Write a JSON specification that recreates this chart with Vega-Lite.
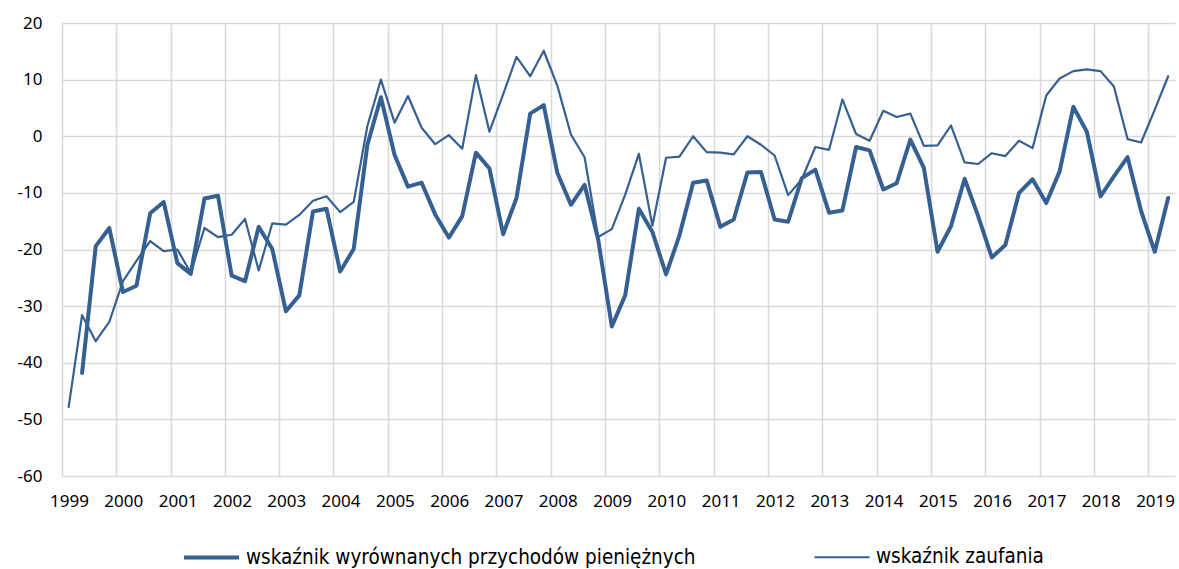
{
  "$schema": "https://vega.github.io/schema/vega-lite/v6.json",
  "width": 1113,
  "height": 453,
  "autosize": {"type": "none"},
  "padding": {"left": 62, "top": 23, "right": 4, "bottom": 93},
  "background": "white",
  "config": {
    "view": {"stroke": null},
    "axis": {"labelFont": "Noto Sans", "labelFontSize": 17, "labelColor": "#000000", "gridColor": "#d9d9d9", "gridWidth": 1.5, "domain": false, "ticks": false, "title": null}
  },
  "data": {
    "values": [
      {"date": "1999-02-15", "wskaźnik zaufania": -47.8},
      {"date": "1999-05-16", "wskaźnik wyrównanych przychodów pieniężnych": -41.8, "wskaźnik zaufania": -31.6},
      {"date": "1999-08-16", "wskaźnik wyrównanych przychodów pieniężnych": -19.4, "wskaźnik zaufania": -36.2},
      {"date": "1999-11-15", "wskaźnik wyrównanych przychodów pieniężnych": -16.2, "wskaźnik zaufania": -32.8},
      {"date": "2000-02-15", "wskaźnik wyrównanych przychodów pieniężnych": -27.5, "wskaźnik zaufania": -25.6},
      {"date": "2000-05-16", "wskaźnik wyrównanych przychodów pieniężnych": -26.4, "wskaźnik zaufania": -22.0},
      {"date": "2000-08-16", "wskaźnik wyrównanych przychodów pieniężnych": -13.6, "wskaźnik zaufania": -18.5},
      {"date": "2000-11-15", "wskaźnik wyrównanych przychodów pieniężnych": -11.6, "wskaźnik zaufania": -20.3},
      {"date": "2001-02-15", "wskaźnik wyrównanych przychodów pieniężnych": -22.4, "wskaźnik zaufania": -20.0},
      {"date": "2001-05-16", "wskaźnik wyrównanych przychodów pieniężnych": -24.3, "wskaźnik zaufania": -24.1},
      {"date": "2001-08-16", "wskaźnik wyrównanych przychodów pieniężnych": -11.0, "wskaźnik zaufania": -16.2},
      {"date": "2001-11-15", "wskaźnik wyrównanych przychodów pieniężnych": -10.5, "wskaźnik zaufania": -17.8},
      {"date": "2002-02-15", "wskaźnik wyrównanych przychodów pieniężnych": -24.6, "wskaźnik zaufania": -17.4},
      {"date": "2002-05-16", "wskaźnik wyrównanych przychodów pieniężnych": -25.6, "wskaźnik zaufania": -14.6},
      {"date": "2002-08-16", "wskaźnik wyrównanych przychodów pieniężnych": -16.0, "wskaźnik zaufania": -23.7},
      {"date": "2002-11-15", "wskaźnik wyrównanych przychodów pieniężnych": -19.9, "wskaźnik zaufania": -15.4},
      {"date": "2003-02-15", "wskaźnik wyrównanych przychodów pieniężnych": -30.9, "wskaźnik zaufania": -15.6},
      {"date": "2003-05-16", "wskaźnik wyrównanych przychodów pieniężnych": -28.1, "wskaźnik zaufania": -13.9},
      {"date": "2003-08-16", "wskaźnik wyrównanych przychodów pieniężnych": -13.3, "wskaźnik zaufania": -11.4},
      {"date": "2003-11-15", "wskaźnik wyrównanych przychodów pieniężnych": -12.8, "wskaźnik zaufania": -10.6},
      {"date": "2004-02-15", "wskaźnik wyrównanych przychodów pieniężnych": -23.9, "wskaźnik zaufania": -13.4},
      {"date": "2004-05-16", "wskaźnik wyrównanych przychodów pieniężnych": -19.9, "wskaźnik zaufania": -11.6},
      {"date": "2004-08-16", "wskaźnik wyrównanych przychodów pieniężnych": -1.5, "wskaźnik zaufania": 1.8},
      {"date": "2004-11-15", "wskaźnik wyrównanych przychodów pieniężnych": 6.9, "wskaźnik zaufania": 10.0},
      {"date": "2005-02-15", "wskaźnik wyrównanych przychodów pieniężnych": -3.3, "wskaźnik zaufania": 2.4},
      {"date": "2005-05-16", "wskaźnik wyrównanych przychodów pieniężnych": -8.9, "wskaźnik zaufania": 7.1},
      {"date": "2005-08-16", "wskaźnik wyrównanych przychodów pieniężnych": -8.2, "wskaźnik zaufania": 1.5},
      {"date": "2005-11-15", "wskaźnik wyrównanych przychodów pieniężnych": -13.8, "wskaźnik zaufania": -1.4},
      {"date": "2006-02-15", "wskaźnik wyrównanych przychodów pieniężnych": -17.9, "wskaźnik zaufania": 0.2},
      {"date": "2006-05-16", "wskaźnik wyrównanych przychodów pieniężnych": -14.1, "wskaźnik zaufania": -2.2},
      {"date": "2006-08-16", "wskaźnik wyrównanych przychodów pieniężnych": -2.9, "wskaźnik zaufania": 10.8},
      {"date": "2006-11-15", "wskaźnik wyrównanych przychodów pieniężnych": -5.7, "wskaźnik zaufania": 0.8},
      {"date": "2007-02-15", "wskaźnik wyrównanych przychodów pieniężnych": -17.3, "wskaźnik zaufania": 7.4},
      {"date": "2007-05-16", "wskaźnik wyrównanych przychodów pieniężnych": -10.9, "wskaźnik zaufania": 14.0},
      {"date": "2007-08-16", "wskaźnik wyrównanych przychodów pieniężnych": 4.0, "wskaźnik zaufania": 10.6},
      {"date": "2007-11-15", "wskaźnik wyrównanych przychodów pieniężnych": 5.5, "wskaźnik zaufania": 15.1},
      {"date": "2008-02-15", "wskaźnik wyrównanych przychodów pieniężnych": -6.5, "wskaźnik zaufania": 8.9},
      {"date": "2008-05-16", "wskaźnik wyrównanych przychodów pieniężnych": -12.1, "wskaźnik zaufania": 0.3},
      {"date": "2008-08-16", "wskaźnik wyrównanych przychodów pieniężnych": -8.6, "wskaźnik zaufania": -3.7},
      {"date": "2008-11-15", "wskaźnik wyrównanych przychodów pieniężnych": -18.2, "wskaźnik zaufania": -17.8},
      {"date": "2009-02-15", "wskaźnik wyrównanych przychodów pieniężnych": -33.6, "wskaźnik zaufania": -16.4},
      {"date": "2009-05-16", "wskaźnik wyrównanych przychodów pieniężnych": -28.1, "wskaźnik zaufania": -10.3},
      {"date": "2009-08-16", "wskaźnik wyrównanych przychodów pieniężnych": -12.8, "wskaźnik zaufania": -3.1},
      {"date": "2009-11-15", "wskaźnik wyrównanych przychodów pieniężnych": -16.9, "wskaźnik zaufania": -15.8},
      {"date": "2010-02-15", "wskaźnik wyrównanych przychodów pieniężnych": -24.4, "wskaźnik zaufania": -3.8},
      {"date": "2010-05-16", "wskaźnik wyrównanych przychodów pieniężnych": -17.5, "wskaźnik zaufania": -3.6},
      {"date": "2010-08-16", "wskaźnik wyrównanych przychodów pieniężnych": -8.2, "wskaźnik zaufania": 0.0},
      {"date": "2010-11-15", "wskaźnik wyrównanych przychodów pieniężnych": -7.8, "wskaźnik zaufania": -2.8},
      {"date": "2011-02-15", "wskaźnik wyrównanych przychodów pieniężnych": -16.0, "wskaźnik zaufania": -2.9},
      {"date": "2011-05-16", "wskaźnik wyrównanych przychodów pieniężnych": -14.7, "wskaźnik zaufania": -3.2},
      {"date": "2011-08-16", "wskaźnik wyrównanych przychodów pieniężnych": -6.4, "wskaźnik zaufania": 0.0},
      {"date": "2011-11-15", "wskaźnik wyrównanych przychodów pieniężnych": -6.3, "wskaźnik zaufania": -1.5},
      {"date": "2012-02-15", "wskaźnik wyrównanych przychodów pieniężnych": -14.7, "wskaźnik zaufania": -3.4},
      {"date": "2012-05-16", "wskaźnik wyrównanych przychodów pieniężnych": -15.1, "wskaźnik zaufania": -10.4},
      {"date": "2012-08-16", "wskaźnik wyrównanych przychodów pieniężnych": -7.4, "wskaźnik zaufania": -7.6},
      {"date": "2012-11-15", "wskaźnik wyrównanych przychodów pieniężnych": -5.9, "wskaźnik zaufania": -1.9},
      {"date": "2013-02-15", "wskaźnik wyrównanych przychodów pieniężnych": -13.5, "wskaźnik zaufania": -2.4},
      {"date": "2013-05-16", "wskaźnik wyrównanych przychodów pieniężnych": -13.1, "wskaźnik zaufania": 6.5},
      {"date": "2013-08-16", "wskaźnik wyrównanych przychodów pieniężnych": -1.9, "wskaźnik zaufania": 0.4},
      {"date": "2013-11-15", "wskaźnik wyrównanych przychodów pieniężnych": -2.5, "wskaźnik zaufania": -0.8},
      {"date": "2014-02-15", "wskaźnik wyrównanych przychodów pieniężnych": -9.4, "wskaźnik zaufania": 4.5},
      {"date": "2014-05-16", "wskaźnik wyrównanych przychodów pieniężnych": -8.3, "wskaźnik zaufania": 3.4},
      {"date": "2014-08-16", "wskaźnik wyrównanych przychodów pieniężnych": -0.6, "wskaźnik zaufania": 4.0},
      {"date": "2014-11-15", "wskaźnik wyrównanych przychodów pieniężnych": -5.6, "wskaźnik zaufania": -1.7},
      {"date": "2015-02-15", "wskaźnik wyrównanych przychodów pieniężnych": -20.4, "wskaźnik zaufania": -1.6},
      {"date": "2015-05-16", "wskaźnik wyrównanych przychodów pieniężnych": -15.9, "wskaźnik zaufania": 1.9},
      {"date": "2015-08-16", "wskaźnik wyrównanych przychodów pieniężnych": -7.5, "wskaźnik zaufania": -4.6},
      {"date": "2015-11-15", "wskaźnik wyrównanych przychodów pieniężnych": -14.1, "wskaźnik zaufania": -4.9},
      {"date": "2016-02-15", "wskaźnik wyrównanych przychodów pieniężnych": -21.4, "wskaźnik zaufania": -3.0},
      {"date": "2016-05-16", "wskaźnik wyrównanych przychodów pieniężnych": -19.2, "wskaźnik zaufania": -3.5},
      {"date": "2016-08-16", "wskaźnik wyrównanych przychodów pieniężnych": -10.0, "wskaźnik zaufania": -0.8},
      {"date": "2016-11-15", "wskaźnik wyrównanych przychodów pieniężnych": -7.6, "wskaźnik zaufania": -2.1},
      {"date": "2017-02-15", "wskaźnik wyrównanych przychodów pieniężnych": -11.8, "wskaźnik zaufania": 7.2},
      {"date": "2017-05-16", "wskaźnik wyrównanych przychodów pieniężnych": -6.2, "wskaźnik zaufania": 10.2},
      {"date": "2017-08-16", "wskaźnik wyrównanych przychodów pieniężnych": 5.2, "wskaźnik zaufania": 11.5},
      {"date": "2017-11-15", "wskaźnik wyrównanych przychodów pieniężnych": 0.8, "wskaźnik zaufania": 11.8},
      {"date": "2018-02-15", "wskaźnik wyrównanych przychodów pieniężnych": -10.6, "wskaźnik zaufania": 11.5},
      {"date": "2018-05-16", "wskaźnik wyrównanych przychodów pieniężnych": -7.1, "wskaźnik zaufania": 8.8},
      {"date": "2018-08-16", "wskaźnik wyrównanych przychodów pieniężnych": -3.7, "wskaźnik zaufania": -0.5},
      {"date": "2018-11-15", "wskaźnik wyrównanych przychodów pieniężnych": -13.2, "wskaźnik zaufania": -1.1},
      {"date": "2019-02-15", "wskaźnik wyrównanych przychodów pieniężnych": -20.4, "wskaźnik zaufania": 4.7},
      {"date": "2019-05-16", "wskaźnik wyrównanych przychodów pieniężnych": -10.9, "wskaźnik zaufania": 10.6}
    ]
  },
  "transform": [
    {"fold": ["wskaźnik wyrównanych przychodów pieniężnych", "wskaźnik zaufania"], "as": ["series", "value"]}
  ],
  "mark": {"type": "line", "strokeJoin": "round", "strokeCap": "round"},
  "encoding": {
    "x": {
      "field": "date",
      "type": "temporal",
      "scale": {"type": "utc", "domain": [{"year": 1999, "month": 1, "date": 1, "utc": true}, {"year": 2019, "month": 7, "date": 1, "utc": true}]},
      "axis": {"format": "%Y", "tickCount": {"interval": "year", "step": 1}, "labelOffset": 7, "labelPadding": 17, "labelAlign": "center", "labelFlush": false, "labelOverlap": false, "grid": true}
    },
    "y": {
      "field": "value",
      "type": "quantitative",
      "scale": {"domain": [-60, 20], "nice": false, "zero": false},
      "axis": {"values": [-60, -50, -40, -30, -20, -10, 0, 10, 20], "labelExpr": "'' + datum.value", "labelPadding": 20, "grid": true}
    },
    "color": {
      "field": "series",
      "type": "nominal",
      "scale": {"domain": ["wskaźnik wyrównanych przychodów pieniężnych", "wskaźnik zaufania"], "range": ["#376092", "#376092"]},
      "legend": {
        "orient": "none",
        "legendX": 120,
        "legendY": 505,
        "direction": "horizontal",
        "title": null,
        "padding": 0,
        "symbolType": "stroke",
        "symbolSize": 3025,
        "symbolStrokeColor": "#376092",
        "labelFont": "DejaVu Sans Condensed, DejaVu Sans",
        "labelFontSize": 20.5,
        "labelColor": "#000000",
        "labelOffset": 5,
        "labelLimit": 700,
        "columnPadding": 114
      }
    },
    "strokeWidth": {
      "field": "series",
      "type": "ordinal",
      "scale": {"domain": ["wskaźnik wyrównanych przychodów pieniężnych", "wskaźnik zaufania"], "range": [4, 2.2]},
      "legend": null
    }
  }
}
